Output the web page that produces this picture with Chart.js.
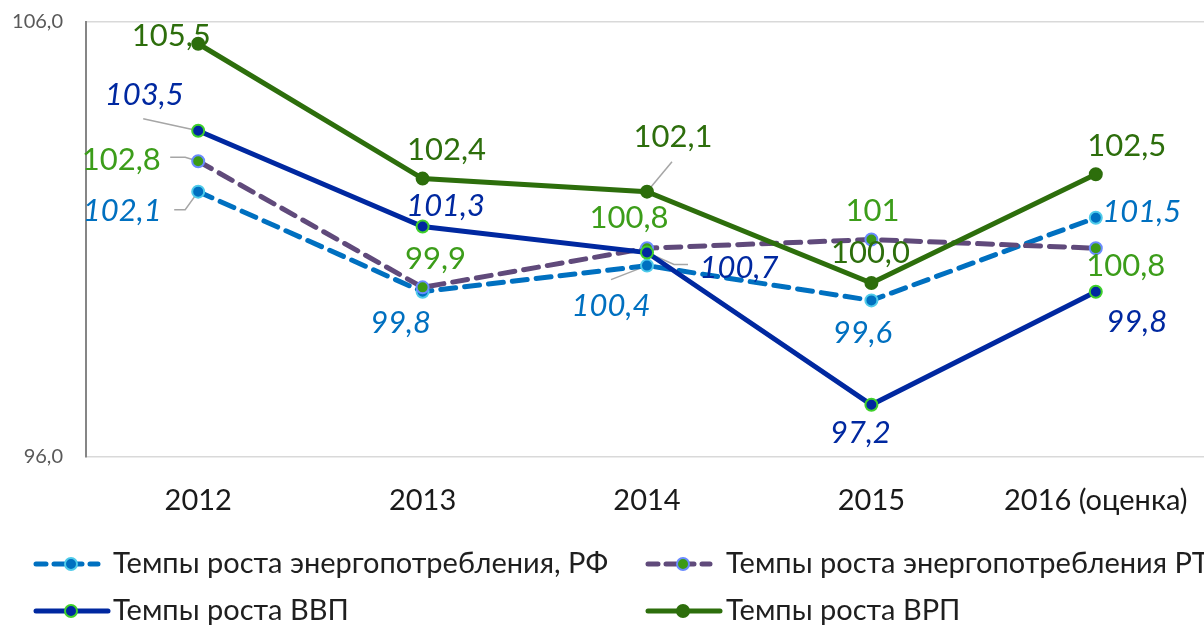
<!DOCTYPE html>
<html>
<head>
<meta charset="utf-8">
<script src="https://cdn.jsdelivr.net/npm/chart.js@4.4.1/dist/chart.umd.min.js"></script>
<style>
  html, body { margin: 0; padding: 0; background: #fff; overflow: hidden; }
  #wrap { width: 1216px; height: 625px; position: relative; }
</style>
</head>
<body>
<div id="wrap"><canvas id="myChart"></canvas></div>
<script>
// data
const years = ['2012', '2013', '2014', '2015', '2016 (оценка)'];
const energyRF = [102.1, 99.8, 100.4, 99.6, 101.5];
const energyRT = [102.8, 99.9, 100.8, 101.0, 100.8];
const gdp = [103.5, 101.3, 100.7, 97.2, 99.8];
const grp = [105.5, 102.4, 102.1, 100.0, 102.5];
const yMin = 96;
const yMax = 106;
// decimals shown in each data label (one point in Excel shows "101")
const rtDecimals = [1, 1, 1, 0, 1];

const FONT = 'Lato, "Open Sans", sans-serif';

function fmt(v, d) {
    return v.toFixed(d).replace('.', ',');
}

const datasets = [
    {
        label: 'Темпы роста энергопотребления, РФ',
        data: energyRF,
        borderColor: '#0070C0',
        borderDash: [15, 9],
        pointBackgroundColor: '#0070C0',
        pointBorderColor: '#4FCBEA',
        labelColor: '#0070C0',
        labelItalic: true,
        labelOffsets: [[-76, 19], [-22, 31], [-36, 40], [-9, 33], [46, -6]],
        leaders: [[[-24, 18], [-13, 18], [0, 0]], null, [[-36, 14], [0, 0]], null, null],
        order: 4
    },
    {
        label: 'Темпы роста энергопотребления РТ',
        data: energyRT,
        decimals: rtDecimals,
        borderColor: '#604A7B',
        borderDash: [15, 9],
        pointBackgroundColor: '#3C9A16',
        pointBorderColor: '#6A8BFF',
        labelColor: '#3C9D1A',
        labelItalic: false,
        labelOffsets: [[-77, -1], [13, -28], [-18, -30], [1, -29], [30, 18]],
        leaders: [[[-28, -4], [-13, -4], [0, 0]], null, null, null, null],
        order: 3
    },
    {
        label: 'Темпы роста ВВП',
        data: gdp,
        borderColor: '#0028A0',
        pointBackgroundColor: '#0028A0',
        pointBorderColor: '#3FD02A',
        labelColor: '#0028A0',
        labelItalic: true,
        labelOffsets: [[-54, -36], [23, -20], [92, 15], [-11, 28], [41, 30]],
        leaders: [[[-55, -12], [0, 0]], null, [[0, 0], [27, 12], [41, 12]], null, null],
        order: 2
    },
    {
        label: 'Темпы роста ВРП',
        data: grp,
        borderColor: '#2D6E0C',
        pointBackgroundColor: '#2D6E0C',
        pointBorderColor: '#2D6E0C',
        labelColor: '#2D6E0C',
        labelItalic: false,
        labelOffsets: [[-27, -8], [24, -29], [26, -55], [-1, -30], [31, -28]],
        leaders: [null, null, [[25, -30], [0, 0]], null, null],
        order: 1
    }
];

datasets.forEach(ds => {
    ds.borderWidth = 5;
    ds.pointRadius = 6;
    ds.pointBorderWidth = 2;
    ds.fill = false;
    ds.tension = 0;
    ds.borderCapStyle = 'round';
});

// leader lines under the points, value labels on top
const valueLabels = {
    id: 'valueLabels',
    beforeDatasetsDraw(chart) {
        const ctx = chart.ctx;
        ctx.save();
        ctx.strokeStyle = '#A6A6A6';
        ctx.lineWidth = 1.5;
        chart.data.datasets.forEach((ds, i) => {
            const meta = chart.getDatasetMeta(i);
            meta.data.forEach((pt, j) => {
                const lead = ds.leaders[j];
                if (!lead) return;
                ctx.beginPath();
                lead.forEach((p, k) => {
                    if (k === 0) ctx.moveTo(pt.x + p[0], pt.y + p[1]);
                    else ctx.lineTo(pt.x + p[0], pt.y + p[1]);
                });
                ctx.stroke();
            });
        });
        ctx.restore();
    },
    afterDatasetsDraw(chart) {
        const ctx = chart.ctx;
        ctx.save();
        ctx.textAlign = 'center';
        ctx.textBaseline = 'middle';
        chart.data.datasets.forEach((ds, i) => {
            const meta = chart.getDatasetMeta(i);
            ctx.fillStyle = ds.labelColor;
            ctx.font = (ds.labelItalic ? 'italic ' : '') + '31px ' + FONT;
            meta.data.forEach((pt, j) => {
                const d = ds.decimals ? ds.decimals[j] : 1;
                const off = ds.labelOffsets[j];
                ctx.fillText(fmt(ds.data[j], d), pt.x + off[0], pt.y + off[1]);
            });
        });
        ctx.restore();
    }
};

// Excel style legend: line sample with marker, two columns
const bottomLegend = {
    id: 'bottomLegend',
    afterDraw(chart) {
        const ctx = chart.ctx;
        const colX = [36, 648];
        const rowY = [564, 611];
        const textX = [113, 726];
        ctx.save();
        chart.data.datasets.forEach((ds, i) => {
            const col = i % 2;
            const row = Math.floor(i / 2);
            const x0 = colX[col];
            const y = rowY[row];
            const len = row === 0 ? 62 : 72;
            ctx.strokeStyle = ds.borderColor;
            ctx.lineWidth = 5;
            ctx.lineCap = 'round';
            ctx.setLineDash(ds.borderDash ? [10, 8] : []);
            ctx.beginPath();
            ctx.moveTo(x0, y);
            ctx.lineTo(x0 + len, y);
            ctx.stroke();
            ctx.setLineDash([]);
            ctx.beginPath();
            ctx.arc(x0 + 35, y, 6, 0, Math.PI * 2);
            ctx.fillStyle = ds.pointBackgroundColor;
            ctx.fill();
            ctx.lineWidth = 2;
            ctx.strokeStyle = ds.pointBorderColor;
            ctx.stroke();
            ctx.fillStyle = '#1F1F1F';
            ctx.font = '29px ' + FONT;
            ctx.textAlign = 'left';
            ctx.textBaseline = 'middle';
            ctx.fillText(ds.label, textX[col], y);
        });
        ctx.restore();
    }
};

const ctx = document.getElementById('myChart').getContext('2d');
const myChart = new Chart(ctx, {
    type: 'line',
    data: {
        labels: years,
        datasets: datasets
    },
    options: {
        responsive: true,
        maintainAspectRatio: false,
        animation: false,
        layout: {
            padding: { top: 22, right: 1, bottom: 0, left: 0 }
        },
        plugins: {
            legend: { display: false },
            tooltip: { enabled: false }
        },
        scales: {
            x: {
                offset: true,
                grid: { display: false, drawTicks: false },
                border: { display: false },
                ticks: {
                    color: '#1A1A1A',
                    font: { family: FONT, size: 29 },
                    padding: 26,
                    maxRotation: 0,
                    autoSkip: false
                },
                afterFit(scale) { scale.height = 625 - 457; }
            },
            y: {
                min: yMin,
                max: yMax,
                ticks: {
                    stepSize: 10,
                    color: '#595959',
                    font: { family: FONT, size: 20 },
                    padding: 23,
                    callback: v => fmt(v, 1)
                },
                grid: { color: '#D9D9D9', lineWidth: 1.5, drawTicks: false },
                border: { display: true, color: '#868686', width: 2 },
                afterFit(scale) {
                    scale.width = 86;
                    scale.paddingTop = 0;
                    scale.paddingBottom = 0;
                }
            }
        }
    },
    plugins: [valueLabels, bottomLegend]
});
</script>
</body>
</html>
